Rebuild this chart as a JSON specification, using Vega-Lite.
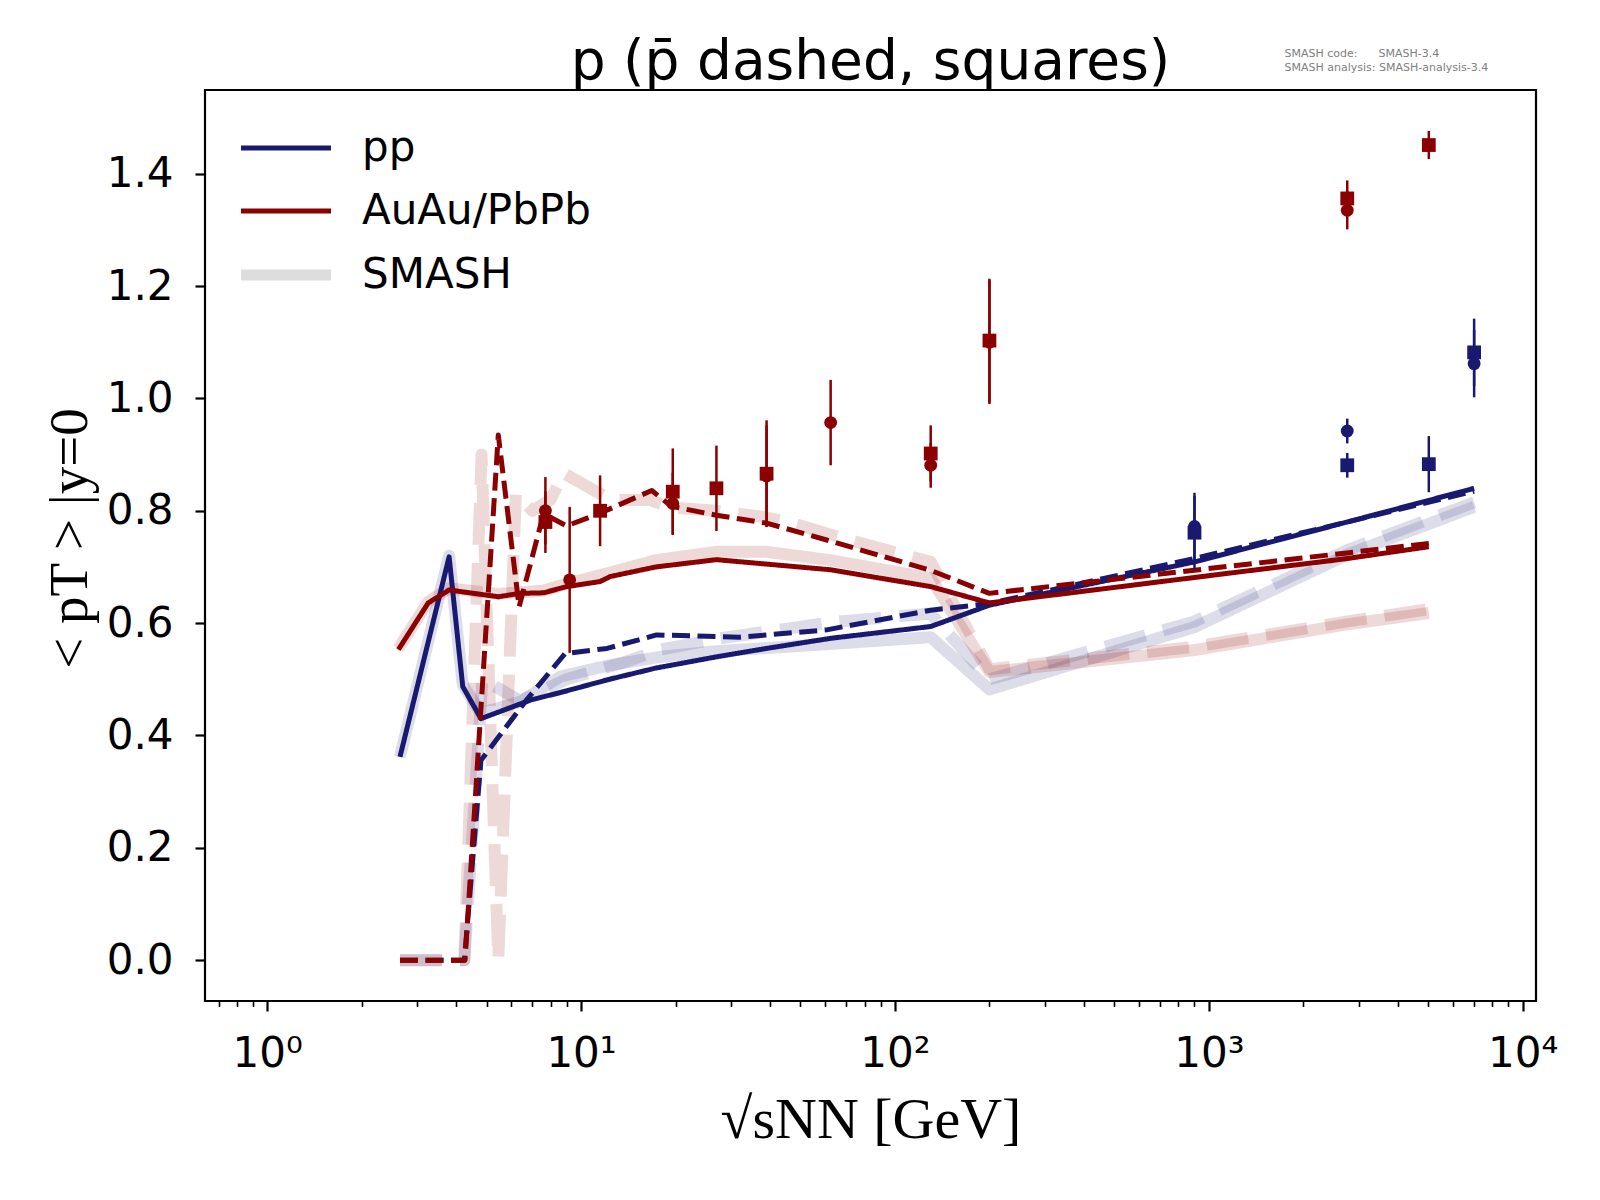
{
  "$schema": "https://vega.github.io/schema/vega-lite/v6.json",
  "width": 1331,
  "height": 911,
  "autosize": "none",
  "padding": {"left": 205, "top": 90, "right": 64, "bottom": 199},
  "background": "white",
  "title": {
    "text": "p (p̄ dashed, squares)",
    "font": "DejaVu Sans",
    "fontSize": 55,
    "fontWeight": "normal",
    "color": "black",
    "baseline": "alphabetic",
    "offset": 10,
    "dy": 97
  },
  "datasets": {
    "smash": [
      {"sys": "pp", "part": "p", "sqrts": 2.65, "pt": 0.362},
      {"sys": "pp", "part": "p", "sqrts": 3.8, "pt": 0.72},
      {"sys": "pp", "part": "p", "sqrts": 4.2, "pt": 0.49},
      {"sys": "pp", "part": "p", "sqrts": 4.8, "pt": 0.44},
      {"sys": "pp", "part": "p", "sqrts": 6.4, "pt": 0.46},
      {"sys": "pp", "part": "p", "sqrts": 8.6, "pt": 0.505},
      {"sys": "pp", "part": "p", "sqrts": 12.3, "pt": 0.525},
      {"sys": "pp", "part": "p", "sqrts": 17.9, "pt": 0.54},
      {"sys": "pp", "part": "p", "sqrts": 27, "pt": 0.55},
      {"sys": "pp", "part": "p", "sqrts": 62.4, "pt": 0.563},
      {"sys": "pp", "part": "p", "sqrts": 130, "pt": 0.575},
      {"sys": "pp", "part": "p", "sqrts": 200, "pt": 0.482},
      {"sys": "pp", "part": "p", "sqrts": 900, "pt": 0.593},
      {"sys": "pp", "part": "p", "sqrts": 2760, "pt": 0.722},
      {"sys": "pp", "part": "p", "sqrts": 7000, "pt": 0.807},
      {"sys": "pp", "part": "pbar", "sqrts": 2.65, "pt": 0},
      {"sys": "pp", "part": "pbar", "sqrts": 3.8, "pt": 0},
      {"sys": "pp", "part": "pbar", "sqrts": 4.25, "pt": 0},
      {"sys": "pp", "part": "pbar", "sqrts": 4.85, "pt": 0.5},
      {"sys": "pp", "part": "pbar", "sqrts": 6.4, "pt": 0.462},
      {"sys": "pp", "part": "pbar", "sqrts": 9.0, "pt": 0.5},
      {"sys": "pp", "part": "pbar", "sqrts": 13.3, "pt": 0.528},
      {"sys": "pp", "part": "pbar", "sqrts": 17.9, "pt": 0.553},
      {"sys": "pp", "part": "pbar", "sqrts": 27.8, "pt": 0.573},
      {"sys": "pp", "part": "pbar", "sqrts": 63.7, "pt": 0.602},
      {"sys": "pp", "part": "pbar", "sqrts": 130, "pt": 0.617},
      {"sys": "pp", "part": "pbar", "sqrts": 200, "pt": 0.5},
      {"sys": "pp", "part": "pbar", "sqrts": 900, "pt": 0.603},
      {"sys": "pp", "part": "pbar", "sqrts": 2760, "pt": 0.73},
      {"sys": "pp", "part": "pbar", "sqrts": 7000, "pt": 0.815},
      {"sys": "AuAu/PbPb", "part": "p", "sqrts": 2.62, "pt": 0.555},
      {"sys": "AuAu/PbPb", "part": "p", "sqrts": 3.26, "pt": 0.638},
      {"sys": "AuAu/PbPb", "part": "p", "sqrts": 3.8, "pt": 0.662},
      {"sys": "AuAu/PbPb", "part": "p", "sqrts": 5.45, "pt": 0.652},
      {"sys": "AuAu/PbPb", "part": "p", "sqrts": 7.6, "pt": 0.658},
      {"sys": "AuAu/PbPb", "part": "p", "sqrts": 8.6, "pt": 0.667},
      {"sys": "AuAu/PbPb", "part": "p", "sqrts": 12.4, "pt": 0.69},
      {"sys": "AuAu/PbPb", "part": "p", "sqrts": 17.3, "pt": 0.712},
      {"sys": "AuAu/PbPb", "part": "p", "sqrts": 27, "pt": 0.727},
      {"sys": "AuAu/PbPb", "part": "p", "sqrts": 39, "pt": 0.727},
      {"sys": "AuAu/PbPb", "part": "p", "sqrts": 62.4, "pt": 0.712},
      {"sys": "AuAu/PbPb", "part": "p", "sqrts": 130, "pt": 0.68},
      {"sys": "AuAu/PbPb", "part": "p", "sqrts": 200, "pt": 0.513},
      {"sys": "AuAu/PbPb", "part": "p", "sqrts": 900, "pt": 0.552},
      {"sys": "AuAu/PbPb", "part": "p", "sqrts": 2760, "pt": 0.598},
      {"sys": "AuAu/PbPb", "part": "p", "sqrts": 5020, "pt": 0.618},
      {"sys": "AuAu/PbPb", "part": "pbar", "sqrts": 2.65, "pt": 0},
      {"sys": "AuAu/PbPb", "part": "pbar", "sqrts": 3.8, "pt": 0},
      {"sys": "AuAu/PbPb", "part": "pbar", "sqrts": 4.25, "pt": 0},
      {"sys": "AuAu/PbPb", "part": "pbar", "sqrts": 4.82, "pt": 0.9},
      {"sys": "AuAu/PbPb", "part": "pbar", "sqrts": 5.45, "pt": 0},
      {"sys": "AuAu/PbPb", "part": "pbar", "sqrts": 6.2, "pt": 0.83},
      {"sys": "AuAu/PbPb", "part": "pbar", "sqrts": 7.0, "pt": 0.8},
      {"sys": "AuAu/PbPb", "part": "pbar", "sqrts": 8.0, "pt": 0.82},
      {"sys": "AuAu/PbPb", "part": "pbar", "sqrts": 8.8, "pt": 0.867},
      {"sys": "AuAu/PbPb", "part": "pbar", "sqrts": 11.2, "pt": 0.834},
      {"sys": "AuAu/PbPb", "part": "pbar", "sqrts": 12.6, "pt": 0.819},
      {"sys": "AuAu/PbPb", "part": "pbar", "sqrts": 16.6, "pt": 0.819},
      {"sys": "AuAu/PbPb", "part": "pbar", "sqrts": 19.4, "pt": 0.806},
      {"sys": "AuAu/PbPb", "part": "pbar", "sqrts": 27, "pt": 0.8},
      {"sys": "AuAu/PbPb", "part": "pbar", "sqrts": 39, "pt": 0.788},
      {"sys": "AuAu/PbPb", "part": "pbar", "sqrts": 47, "pt": 0.778},
      {"sys": "AuAu/PbPb", "part": "pbar", "sqrts": 71.6, "pt": 0.748},
      {"sys": "AuAu/PbPb", "part": "pbar", "sqrts": 130, "pt": 0.709},
      {"sys": "AuAu/PbPb", "part": "pbar", "sqrts": 200, "pt": 0.518},
      {"sys": "AuAu/PbPb", "part": "pbar", "sqrts": 900, "pt": 0.558},
      {"sys": "AuAu/PbPb", "part": "pbar", "sqrts": 2760, "pt": 0.603},
      {"sys": "AuAu/PbPb", "part": "pbar", "sqrts": 5020, "pt": 0.625}
    ],
    "model": [
      {"sys": "pp", "part": "p", "sqrts": 2.65, "pt": 0.362},
      {"sys": "pp", "part": "p", "sqrts": 3.8, "pt": 0.718},
      {"sys": "pp", "part": "p", "sqrts": 4.2, "pt": 0.487},
      {"sys": "pp", "part": "p", "sqrts": 4.8, "pt": 0.43},
      {"sys": "pp", "part": "p", "sqrts": 6.9, "pt": 0.463},
      {"sys": "pp", "part": "p", "sqrts": 8.8, "pt": 0.478},
      {"sys": "pp", "part": "p", "sqrts": 12.3, "pt": 0.5},
      {"sys": "pp", "part": "p", "sqrts": 17.3, "pt": 0.52},
      {"sys": "pp", "part": "p", "sqrts": 27, "pt": 0.54},
      {"sys": "pp", "part": "p", "sqrts": 39, "pt": 0.555},
      {"sys": "pp", "part": "p", "sqrts": 62.4, "pt": 0.573},
      {"sys": "pp", "part": "p", "sqrts": 130, "pt": 0.594},
      {"sys": "pp", "part": "p", "sqrts": 200, "pt": 0.632},
      {"sys": "pp", "part": "p", "sqrts": 900, "pt": 0.709},
      {"sys": "pp", "part": "p", "sqrts": 2760, "pt": 0.78},
      {"sys": "pp", "part": "p", "sqrts": 7000, "pt": 0.84},
      {"sys": "pp", "part": "pbar", "sqrts": 2.65, "pt": 0},
      {"sys": "pp", "part": "pbar", "sqrts": 3.8, "pt": 0},
      {"sys": "pp", "part": "pbar", "sqrts": 4.25, "pt": 0},
      {"sys": "pp", "part": "pbar", "sqrts": 4.8, "pt": 0.356},
      {"sys": "pp", "part": "pbar", "sqrts": 6.7, "pt": 0.463},
      {"sys": "pp", "part": "pbar", "sqrts": 8.9, "pt": 0.546},
      {"sys": "pp", "part": "pbar", "sqrts": 12.1, "pt": 0.555},
      {"sys": "pp", "part": "pbar", "sqrts": 17.4, "pt": 0.579},
      {"sys": "pp", "part": "pbar", "sqrts": 32, "pt": 0.575},
      {"sys": "pp", "part": "pbar", "sqrts": 60.6, "pt": 0.588},
      {"sys": "pp", "part": "pbar", "sqrts": 130, "pt": 0.623},
      {"sys": "pp", "part": "pbar", "sqrts": 200, "pt": 0.635},
      {"sys": "pp", "part": "pbar", "sqrts": 900, "pt": 0.715},
      {"sys": "pp", "part": "pbar", "sqrts": 2760, "pt": 0.78},
      {"sys": "pp", "part": "pbar", "sqrts": 7000, "pt": 0.835},
      {"sys": "AuAu/PbPb", "part": "p", "sqrts": 2.62, "pt": 0.553},
      {"sys": "AuAu/PbPb", "part": "p", "sqrts": 3.26, "pt": 0.636},
      {"sys": "AuAu/PbPb", "part": "p", "sqrts": 3.8, "pt": 0.659},
      {"sys": "AuAu/PbPb", "part": "p", "sqrts": 5.45, "pt": 0.647},
      {"sys": "AuAu/PbPb", "part": "p", "sqrts": 6.4, "pt": 0.653},
      {"sys": "AuAu/PbPb", "part": "p", "sqrts": 7.6, "pt": 0.654},
      {"sys": "AuAu/PbPb", "part": "p", "sqrts": 9.0, "pt": 0.665},
      {"sys": "AuAu/PbPb", "part": "p", "sqrts": 11.5, "pt": 0.674},
      {"sys": "AuAu/PbPb", "part": "p", "sqrts": 12.4, "pt": 0.683},
      {"sys": "AuAu/PbPb", "part": "p", "sqrts": 17.3, "pt": 0.7},
      {"sys": "AuAu/PbPb", "part": "p", "sqrts": 27, "pt": 0.713},
      {"sys": "AuAu/PbPb", "part": "p", "sqrts": 62.4, "pt": 0.695},
      {"sys": "AuAu/PbPb", "part": "p", "sqrts": 130, "pt": 0.665},
      {"sys": "AuAu/PbPb", "part": "p", "sqrts": 200, "pt": 0.636},
      {"sys": "AuAu/PbPb", "part": "p", "sqrts": 2760, "pt": 0.715},
      {"sys": "AuAu/PbPb", "part": "p", "sqrts": 5020, "pt": 0.736},
      {"sys": "AuAu/PbPb", "part": "pbar", "sqrts": 2.65, "pt": 0},
      {"sys": "AuAu/PbPb", "part": "pbar", "sqrts": 3.8, "pt": 0},
      {"sys": "AuAu/PbPb", "part": "pbar", "sqrts": 4.27, "pt": 0},
      {"sys": "AuAu/PbPb", "part": "pbar", "sqrts": 5.45, "pt": 0.935},
      {"sys": "AuAu/PbPb", "part": "pbar", "sqrts": 6.35, "pt": 0.629},
      {"sys": "AuAu/PbPb", "part": "pbar", "sqrts": 7.6, "pt": 0.795},
      {"sys": "AuAu/PbPb", "part": "pbar", "sqrts": 9.0, "pt": 0.773},
      {"sys": "AuAu/PbPb", "part": "pbar", "sqrts": 11.4, "pt": 0.795},
      {"sys": "AuAu/PbPb", "part": "pbar", "sqrts": 16.8, "pt": 0.836},
      {"sys": "AuAu/PbPb", "part": "pbar", "sqrts": 19.4, "pt": 0.808},
      {"sys": "AuAu/PbPb", "part": "pbar", "sqrts": 27, "pt": 0.792},
      {"sys": "AuAu/PbPb", "part": "pbar", "sqrts": 39, "pt": 0.778},
      {"sys": "AuAu/PbPb", "part": "pbar", "sqrts": 60.6, "pt": 0.748},
      {"sys": "AuAu/PbPb", "part": "pbar", "sqrts": 130, "pt": 0.694},
      {"sys": "AuAu/PbPb", "part": "pbar", "sqrts": 200, "pt": 0.653},
      {"sys": "AuAu/PbPb", "part": "pbar", "sqrts": 2760, "pt": 0.725},
      {"sys": "AuAu/PbPb", "part": "pbar", "sqrts": 5020, "pt": 0.742}
    ],
    "exp": [
      {"sys": "AuAu/PbPb", "part": "p", "sqrts": 7.7, "pt": 0.8, "err": 0.06},
      {"sys": "AuAu/PbPb", "part": "p", "sqrts": 9.2, "pt": 0.677, "err": 0.13},
      {"sys": "AuAu/PbPb", "part": "p", "sqrts": 19.6, "pt": 0.813, "err": 0.055},
      {"sys": "AuAu/PbPb", "part": "p", "sqrts": 39, "pt": 0.862, "err": 0.09},
      {"sys": "AuAu/PbPb", "part": "p", "sqrts": 62.4, "pt": 0.957, "err": 0.076},
      {"sys": "AuAu/PbPb", "part": "p", "sqrts": 130, "pt": 0.881, "err": 0.04},
      {"sys": "AuAu/PbPb", "part": "p", "sqrts": 200, "pt": 1.1, "err": 0.11},
      {"sys": "AuAu/PbPb", "part": "p", "sqrts": 2760, "pt": 1.335, "err": 0.034},
      {"sys": "AuAu/PbPb", "part": "pbar", "sqrts": 7.7, "pt": 0.78, "err": 0.055},
      {"sys": "AuAu/PbPb", "part": "pbar", "sqrts": 11.5, "pt": 0.8, "err": 0.063},
      {"sys": "AuAu/PbPb", "part": "pbar", "sqrts": 19.6, "pt": 0.834, "err": 0.077},
      {"sys": "AuAu/PbPb", "part": "pbar", "sqrts": 27, "pt": 0.84, "err": 0.076},
      {"sys": "AuAu/PbPb", "part": "pbar", "sqrts": 39, "pt": 0.866, "err": 0.095},
      {"sys": "AuAu/PbPb", "part": "pbar", "sqrts": 130, "pt": 0.902, "err": 0.05},
      {"sys": "AuAu/PbPb", "part": "pbar", "sqrts": 200, "pt": 1.103, "err": 0.11},
      {"sys": "AuAu/PbPb", "part": "pbar", "sqrts": 2760, "pt": 1.356, "err": 0.032},
      {"sys": "AuAu/PbPb", "part": "pbar", "sqrts": 5020, "pt": 1.451, "err": 0.025},
      {"sys": "pp", "part": "p", "sqrts": 900, "pt": 0.772, "err": 0.06},
      {"sys": "pp", "part": "p", "sqrts": 2760, "pt": 0.942, "err": 0.022},
      {"sys": "pp", "part": "p", "sqrts": 7000, "pt": 1.062, "err": 0.06},
      {"sys": "pp", "part": "pbar", "sqrts": 900, "pt": 0.761, "err": 0.065},
      {"sys": "pp", "part": "pbar", "sqrts": 2760, "pt": 0.881, "err": 0.022},
      {"sys": "pp", "part": "pbar", "sqrts": 5020, "pt": 0.883, "err": 0.05},
      {"sys": "pp", "part": "pbar", "sqrts": 7000, "pt": 1.082, "err": 0.06}
    ]
  },
  "layer": [
    {
      "data": {"name": "smash"},
      "mark": {"type": "line", "strokeWidth": 12, "opacity": 0.15, "strokeCap": "butt", "strokeJoin": "round"},
      "encoding": {
        "x": {
          "field": "sqrts", "type": "quantitative",
          "scale": {"type": "log", "domain": [0.634, 11020], "nice": false},
          "axis": {
            "orient": "bottom",
            "values": [0.7, 0.8, 0.9, 1, 2, 3, 4, 5, 6, 7, 8, 9, 10, 20, 30, 40, 50, 60, 70, 80, 90, 100, 200, 300, 400, 500, 600, 700, 800, 900, 1000, 2000, 3000, 4000, 5000, 6000, 7000, 8000, 9000, 10000],
            "labelExpr": "datum.value == 1 ? '10⁰' : datum.value == 10 ? '10¹' : datum.value == 100 ? '10²' : datum.value == 1000 ? '10³' : datum.value == 10000 ? '10⁴' : ''",
            "tickSize": {"condition": {"test": "indexof([1, 10, 100, 1000, 10000], datum.value) >= 0", "value": 10}, "value": 5.5},
            "tickWidth": {"condition": {"test": "indexof([1, 10, 100, 1000, 10000], datum.value) >= 0", "value": 2.2}, "value": 1.6},
            "tickColor": "black",
            "domain": false,
            "grid": false,
            "labelOverlap": false,
            "labelFlush": false,
            "labelFont": "DejaVu Sans",
            "labelFontSize": 42,
            "labelColor": "black",
            "labelPadding": 22,
            "title": "√sNN [GeV]",
            "titleFont": "Liberation Serif",
            "titleFontSize": 58,
            "titleFontWeight": "normal",
            "titleColor": "black",
            "titleBaseline": "middle",
            "titleY": 119
          }
        },
        "y": {
          "field": "pt", "type": "quantitative", "title": "< pT > |y=0",
          "scale": {"domain": [-0.0726, 1.549], "nice": false, "zero": false},
          "axis": {
            "values": [0, 0.2, 0.4, 0.6, 0.8, 1.0, 1.2, 1.4],
            "format": ".1f",
            "tickSize": 10, "tickWidth": 2.2, "tickColor": "black",
            "domain": false, "grid": false,
            "labelFont": "DejaVu Sans", "labelFontSize": 42, "labelColor": "black", "labelPadding": 22,
            "titleFont": "Liberation Serif", "titleFontSize": 55, "titleFontWeight": "normal", "titleColor": "black",
            "titleAngle": 270, "titleAlign": "center", "titleBaseline": "middle", "titleX": -136, "titleY": 448
          }
        },
        "color": {"field": "sys", "type": "nominal", "scale": {"domain": ["pp", "AuAu/PbPb"], "range": ["#191970", "#8b0000"]}, "legend": null},
        "strokeDash": {"field": "part", "type": "nominal", "scale": {"domain": ["p", "pbar"], "range": [[1, 0], [42, 18]]}, "legend": null}
      }
    },
    {
      "data": {"name": "model"},
      "mark": {"type": "line", "strokeWidth": 5, "strokeCap": "butt", "strokeJoin": "round"},
      "encoding": {
        "x": {"field": "sqrts", "type": "quantitative", "axis": null},
        "y": {"field": "pt", "type": "quantitative", "title": "< pT > |y=0"},
        "color": {
          "field": "sys", "type": "nominal",
          "scale": {"domain": ["pp", "AuAu/PbPb", "SMASH"], "range": ["#191970", "#8b0000", "#dddddd"]},
          "legend": {
            "orient": "none", "legendX": 60, "legendY": 37, "title": null, "padding": 0,
            "symbolType": "stroke", "symbolSize": 8100, "symbolStrokeWidth": 5, "rowPadding": 21, "labelOffset": 55,
            "labelFont": "DejaVu Sans", "labelFontSize": 42, "labelColor": "black", "labelLimit": 500,
            "encode": {"symbols": {"update": {"strokeWidth": {"signal": "datum.value === 'SMASH' ? 11 : 5"}}}}
          }
        },
        "strokeDash": {"field": "part", "type": "nominal", "scale": {"domain": ["p", "pbar"], "range": [[1, 0], [18, 7.5]]}, "legend": null}
      }
    },
    {
      "data": {"name": "exp"},
      "mark": {"type": "errorbar", "ticks": false, "thickness": 2.5},
      "encoding": {
        "x": {"field": "sqrts", "type": "quantitative", "axis": null},
        "y": {"field": "pt", "type": "quantitative", "title": "< pT > |y=0"},
        "yError": {"field": "err"},
        "color": {"field": "sys", "type": "nominal", "scale": {"domain": ["pp", "AuAu/PbPb"], "range": ["#191970", "#8b0000"]}, "legend": null}
      }
    },
    {
      "data": {"name": "exp"},
      "mark": {"type": "point", "filled": true, "opacity": 1},
      "encoding": {
        "x": {
          "field": "sqrts", "type": "quantitative",
          "axis": {
            "orient": "top", "labels": false, "ticks": false, "domain": false, "grid": false,
            "title": ["SMASH code:\u00a0\u00a0\u00a0\u00a0\u00a0\u00a0SMASH-3.4", "SMASH analysis:\u00a0SMASH-analysis-3.4"],
            "titleFont": "DejaVu Sans", "titleFontSize": 11, "titleFontWeight": "normal", "titleColor": "#808080",
            "titleLineHeight": 14, "titleAnchor": "start", "titleAlign": "left", "titleBaseline": "top",
            "titleX": 1079, "titleY": -43
          }
        },
        "y": {"field": "pt", "type": "quantitative", "title": "< pT > |y=0"},
        "color": {"field": "sys", "type": "nominal", "scale": {"domain": ["pp", "AuAu/PbPb"], "range": ["#191970", "#8b0000"]}, "legend": null},
        "shape": {"field": "part", "type": "nominal", "scale": {"domain": ["p", "pbar"], "range": ["circle", "square"]}, "legend": null},
        "size": {"field": "part", "type": "nominal", "scale": {"type": "ordinal", "domain": ["p", "pbar"], "range": [165, 190]}, "legend": null}
      }
    }
  ],
  "resolve": {
    "scale": {"color": "independent", "strokeDash": "independent"},
    "axis": {"x": "independent"}
  },
  "config": {
    "view": {"stroke": "black", "strokeWidth": 2.2},
    "font": "DejaVu Sans"
  }
}
